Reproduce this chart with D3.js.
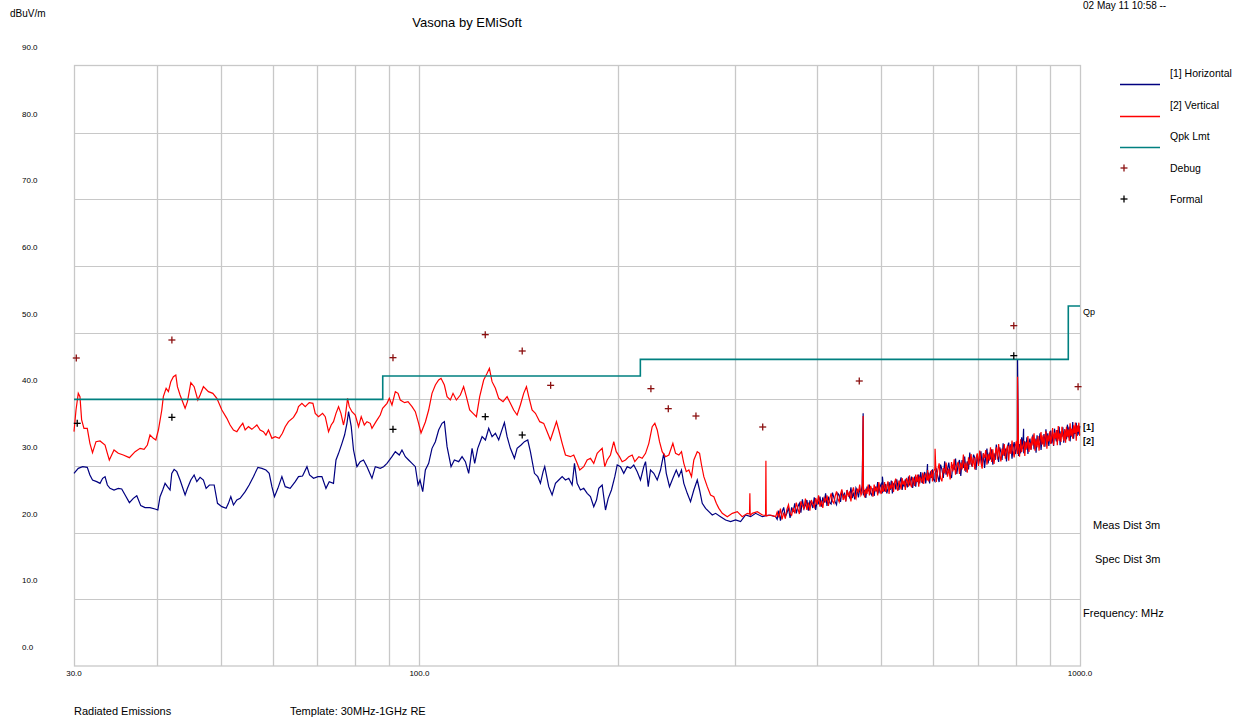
<!DOCTYPE html>
<html><head><meta charset="utf-8">
<script src="https://cdn.jsdelivr.net/npm/d3@7"></script>
<style>
body{margin:0;background:#fff}
svg{display:block}
text{font-family:"Liberation Sans",Arial,sans-serif;fill:#000}
</style></head>
<body><svg id="c" width="1246" height="721"></svg>
<script>
// ---------- DATA ----------
const yTicks = [0,10,20,30,40,50,60,70,80,90];
const xTickLabels = [30,100,1000];
const xGrid = [40,50,60,70,80,90,100,200,300,400,500,600,700,800,900];

// [2] Vertical, structured part 30-346 MHz
const vertFreq = [30.00,30.21,30.45,30.63,30.81,31.06,31.42,31.71,32.00,32.39,32.85,33.43,33.70,33.93,34.21,34.49,35.01,35.62,36.39,37.12,37.77,38.30,38.74,39.10,39.56,39.90,40.26,40.74,40.96,41.36,41.69,42.04,42.42,42.78,43.02,43.42,44.19,44.55,45.08,45.60,46.19,46.56,47.10,47.93,48.67,49.36,50.23,51.11,51.69,52.30,52.92,53.53,54.03,54.48,55.11,55.76,56.75,57.40,58.06,58.57,59.09,59.80,60.49,61.34,62.03,62.64,63.36,64.47,65.25,65.61,66.39,67.17,68.11,68.99,69.55,70.36,71.35,72.02,72.85,73.53,74.12,74.77,75.44,76.07,76.76,77.23,77.85,78.31,79.04,79.97,80.89,81.64,82.52,83.30,84.25,84.76,85.96,87.24,87.96,89.32,90.04,90.88,91.95,92.82,93.55,94.98,96.11,97.46,98.59,99.73,100.56,102.1,103.28,104.49,105.72,106.94,107.83,109.09,110.12,111.38,112.43,113.75,115.33,116.66,117.79,119.15,120.55,121.98,123.38,125.11,126.61,127.63,128.82,130.33,131.84,133.85,135.75,137.31,138.90,140.57,142.18,143.83,145.22,146.39,148.10,149.85,152.11,154.23,156.08,157.88,159.70,161.24,162.54,164.48,166.38,169.28,171.24,173.30,174.88,177.32,179.46,181.52,183.62,185.83,186.86,189.09,190.82,192.42,194.63,196.88,198.58,200.85,202.73,205.13,207.50,209.95,211.88,214.87,217.41,219.95,222.49,225.12,227.19,229.09,230.93,233.09,235.84,238.57,241.93,244.21,247.03,249.32,251.34,253.51,255.78,258.17,260.27,263.40,265.52,267.34,269.51,272.75,275.88,279.07,281.49,284.01,287.40,292.46,297.62,302.84,308.12,313.59,316.0,316.4,316.8,319.06,324.72,330.45,334.2,334.6,335.0,340.12,346.16];
const vertDb = [35.15,38.4,40.9,40.4,36.9,35.65,35.65,33.4,32.0,33.65,33.75,33.15,31.9,30.9,31.65,32.4,31.9,31.65,31.25,32.15,32.65,32.5,33.15,34.65,34.15,33.9,35.4,38.4,40.4,41.65,41.15,42.65,43.4,43.65,41.9,40.65,38.65,39.65,42.5,41.9,39.9,40.65,41.9,41.15,40.9,40.15,38.4,37.15,36.15,35.4,35.15,35.9,36.4,35.4,35.9,35.5,36.15,35.4,35.15,34.65,35.4,34.15,34.4,34.15,34.9,35.9,36.65,37.3,38.15,38.9,39.4,38.9,39.5,39.4,37.9,37.4,37.9,37.4,35.15,36.15,36.65,37.9,38.9,37.9,36.15,37.4,40.15,38.9,38.15,37.65,35.9,37.4,36.15,36.65,36.4,35.65,36.65,37.65,38.65,39.4,40.15,39.15,41.15,40.9,39.9,39.5,39.65,38.9,38.15,36.4,34.95,36.6,38.4,40.9,42.15,42.9,43.15,42.15,40.4,39.9,40.9,39.9,40.65,41.9,40.4,38.4,37.9,37.4,40.4,42.9,43.9,44.65,42.65,41.65,40.15,39.65,40.4,39.4,38.4,37.65,39.15,40.9,41.9,40.4,38.4,37.9,36.65,36.4,35.15,33.9,35.4,36.65,35.4,33.4,31.65,31.4,31.65,30.4,29.4,29.9,30.9,31.15,30.4,31.9,32.15,32.65,29.9,30.9,31.65,33.65,32.15,31.4,30.65,30.9,31.4,31.65,30.65,31.4,31.15,31.9,33.4,35.9,36.4,35.4,33.65,32.15,31.4,31.65,33.4,31.9,31.65,32.15,30.4,29.15,29.4,28.4,30.9,32.15,31.9,30.15,28.4,26.9,25.65,25.4,24.4,23.65,22.9,22.4,22.9,23.15,22.4,22.9,22.8,25.9,22.6,22.9,23.15,22.65,22.6,30.8,22.5,22.65,22.4];

// [1] Horizontal, structured part 30-346 MHz
const horizFreq = [30.00,30.45,30.92,31.42,31.71,32.00,32.47,32.85,33.15,33.43,33.70,34.01,34.49,35.01,35.43,35.85,36.39,36.89,37.34,37.86,38.43,39.10,39.80,40.18,40.49,40.87,41.21,41.55,41.93,42.18,42.53,42.93,43.42,44.19,44.55,45.08,45.60,46.03,46.56,47.10,47.55,48.10,48.90,49.47,50.23,50.98,51.39,51.82,52.30,52.92,53.53,54.48,55.24,56.07,56.95,57.75,58.57,59.24,59.80,60.34,61.06,61.92,62.64,63.73,64.87,65.61,66.54,67.57,68.19,69.14,70.21,71.19,72.20,73.03,74.12,74.77,75.44,76.34,77.04,77.68,78.12,78.85,79.48,80.44,81.36,82.30,83.30,84.76,85.75,87.24,88.25,89.32,90.88,91.95,93.23,94.10,95.21,96.31,97.46,98.59,99.53,100.21,101.16,102.1,103.28,104.49,105.72,106.94,108.2,109.09,110.12,111.66,112.96,114.67,116.03,117.38,118.74,120.15,121.25,122.54,124.42,125.87,127.32,128.82,130.33,131.84,133.06,134.49,135.75,137.31,139.26,140.57,142.53,144.21,145.88,147.24,149.33,151.06,152.47,153.90,154.78,156.96,158.82,160.68,162.54,164.48,166.38,168.30,170.29,171.69,173.30,175.30,177.32,179.46,181.52,183.62,185.39,186.86,189.09,191.30,193.11,195.30,197.6,199.26,201.55,203.87,206.33,208.70,211.11,213.66,216.11,218.61,219.95,222.03,223.78,226.37,229.09,231.73,234.40,236.43,239.13,241.93,244.82,247.03,249.32,251.34,254.37,257.29,260.27,263.40,265.52,268.02,271.16,274.29,277.54,280.79,285.69,290.75,295.82,301.07,306.32,311.76,317.19,322.83,330.45,338.15,346.16];
const horizDb = [28.9,29.65,29.9,29.8,28.65,27.9,27.65,27.4,28.15,28.4,27.15,26.65,26.4,26.65,26.55,25.65,24.5,25.15,25.55,24.05,23.75,23.75,23.55,23.4,25.4,26.4,27.4,26.9,26.4,28.9,29.5,29.15,27.9,25.65,26.65,27.9,28.65,27.65,28.3,27.9,26.65,27.15,27.15,24.4,23.9,23.65,24.4,25.4,24.15,24.9,25.15,26.15,27.15,28.4,29.8,29.65,29.4,28.9,26.9,25.4,26.65,28.4,26.9,26.65,27.65,28.4,28.5,29.9,28.65,28.15,28.4,28.4,26.65,27.65,27.4,30.9,31.9,33.4,34.65,36.4,38.15,35.9,32.4,29.9,30.65,30.9,29.9,28.15,29.9,29.65,29.9,30.4,31.4,32.15,31.65,32.4,31.4,30.9,30.4,29.9,27.15,27.9,26.15,29.4,30.4,32.65,33.65,35.4,36.4,36.65,32.9,29.9,30.9,30.65,31.4,30.65,28.9,32.65,30.4,32.65,34.4,33.9,35.65,34.4,34.9,33.9,35.15,36.5,34.4,32.65,31.15,32.65,33.15,33.65,33.9,32.15,28.9,28.4,27.4,29.15,29.9,26.9,25.65,27.4,27.9,28.4,27.9,28.15,27.15,30.4,27.4,26.4,26.65,25.9,25.4,23.9,24.9,26.65,27.15,23.4,25.15,26.4,28.4,30.15,29.9,28.9,29.9,29.65,30.15,29.15,27.9,29.9,30.65,26.9,29.4,28.9,27.9,29.4,31.9,28.9,26.9,28.15,29.4,28.4,29.4,27.4,25.9,24.65,26.4,27.9,26.4,24.4,23.65,23.15,22.65,22.9,22.4,21.9,21.65,21.9,21.65,22.65,22.4,22.9,22.4,22.65,22.4];

// Noise band 348-1000 MHz (both polarisations share the sweep points)
const bandFreq = [348,350,352,354,356,358,360,362,364,366,368,370,372,374,376,378,380,382,384,386,388,390,392,394,396,398,400,402,404,406,408,410,412,414,416,418,420,422,424,426,428,430,432,434,436,438,440,442,444,446,448,450,452,454,456,458,460,462,464,466,468,469.6,470,472,474,476,478,480,482,484,486,488,490,492,494,496,498,500,502,502.2,504,506,508,510,512,514,516,518,520,522,524,526,528,530,532,534,536,538,540,542,544,546,548,550,552,554,556,558,560,562,564,566,568,570,572,574,576,578,580,582,584,586,587.7,588,590,592,594,596,598,600,603,603.4,606,609,612,615,618,621,624,627,630,633,636,639,642,645,648,651,654,657,660,663,666,669,672,675,678,681,684,687,690,693,696,699,702,705,708,711,714,717,720,723,726,729,732,735,738,741,744,747,750,753,756,759,762,765,768,771,774,777,780,783,786,789,792,795,798,801,804,804.4,807,810,813,816,819,821.5,822,825,828,831,834,837,840,843,846,849,852,855,858,861,864,867,870,873,876,879,882,885,888,891,894,897,900,903,906,909,912,915,918,921,924,927,930,933,936,939,942,945,948,951,954,957,960,963,966,969,972,975,978,981,984,987,990,993,996,999,1000];
const bandVert = [23.1,22.3,23.6,22.0,23.0,22.1,23.5,24.2,22.9,22.6,23.7,22.9,24.5,23.6,22.8,24.7,24.1,23.6,25.1,23.4,24.5,23.3,24.9,24.3,23.8,25.2,24.2,25.6,23.9,24.8,23.7,25.2,24.7,25.6,24.0,25.1,25.9,24.7,24.4,25.5,26.2,25.1,24.6,25.8,26.5,24.9,25.7,24.7,26.4,25.4,26.2,24.7,26.1,26.8,25.5,25.1,26.6,26.1,27.2,25.6,26.0,37.5,27.0,25.3,26.6,25.8,27.2,25.6,27.0,26.5,25.4,27.2,26.2,26.9,25.6,27.6,26.4,25.8,27.2,26.3,26.2,27.6,26.1,26.9,27.7,25.8,27.2,26.6,27.7,26.1,27.5,28.1,26.7,26.3,27.8,27.4,26.5,28.2,27.2,27.8,26.4,28.2,27.8,26.9,28.6,27.2,26.8,28.3,27.9,27.0,28.7,27.6,28.7,26.9,28.4,28.0,27.5,29.0,27.3,28.5,28.9,27.9,27.9,29.4,27.7,28.6,28.2,29.4,27.7,29.1,29.6,32.6,27.6,29.3,30.4,28.2,27.7,29.7,28.9,30.5,28.4,29.6,28.0,30.6,29.2,31.0,28.7,30.1,30.6,28.8,30.5,29.5,31.7,29.3,30.5,29.0,31.3,30.2,31.8,29.9,31.3,29.5,31.1,31.9,30.0,32.3,30.5,29.6,31.9,31.2,32.4,30.2,31.8,30.8,32.8,30.6,32.5,30.3,31.8,32.8,31.0,33.3,31.6,30.7,32.6,31.6,33.3,31.1,32.5,33.1,30.8,33.1,31.8,33.8,32.3,31.3,33.0,33.7,31.8,43.4,33.0,31.4,34.0,32.1,33.0,33.4,33.8,31.5,33.6,32.6,34.5,32.1,33.5,32.4,34.4,33.1,34.9,32.3,34.0,32.8,34.5,32.3,33.9,35.1,33.2,34.6,32.9,34.3,35.2,32.6,34.6,33.7,35.2,33.3,34.4,35.7,33.1,35.0,34.1,35.4,33.1,36.0,33.8,34.9,33.6,35.9,34.6,33.8,35.5,33.5,35.9,34.4,35.5,33.8,36.4,34.5,35.6,34.1,36.1,34.9,36.5,33.8,36.1,35.1,36.5,34.6,34.6];
const bandHoriz = [22.0,23.3,21.8,23.1,23.8,22.4,22.9,23.8,22.2,23.8,23.1,24.4,22.9,23.9,24.4,23.0,25.0,23.6,24.1,24.9,23.3,24.7,24.4,23.7,25.3,23.4,24.8,24.4,25.4,23.9,25.3,24.5,25.9,24.0,25.4,24.5,24.3,26.0,25.3,24.6,24.2,25.9,25.6,24.6,26.3,25.3,26.0,24.7,26.4,25.7,25.3,26.8,25.2,26.0,25.0,26.7,26.3,25.3,26.6,25.9,27.1,37.9,25.6,26.4,25.2,26.9,26.2,27.2,25.9,25.6,26.7,25.5,26.9,26.2,27.6,25.9,26.9,27.3,25.9,28.4,26.8,26.2,27.3,25.9,26.6,27.6,26.4,27.8,25.9,27.3,27.5,26.5,28.0,26.9,26.4,27.7,28.3,26.4,27.5,26.9,28.0,27.3,26.8,28.4,27.1,27.9,28.4,26.7,27.7,28.4,26.9,28.3,27.6,28.7,27.4,29.1,27.9,27.4,28.6,29.1,27.4,28.5,30.3,27.9,29.0,27.4,29.2,28.2,29.5,28.0,27.7,28.9,29.5,28.5,27.6,30.2,29.5,28.2,30.7,28.7,29.5,30.5,28.7,28.2,30.2,29.4,31.1,28.8,30.3,30.9,28.5,30.9,29.7,31.4,29.1,30.7,29.5,32.0,30.4,29.9,31.7,31.2,29.4,31.7,30.3,31.1,32.2,30.0,31.9,29.7,31.5,32.6,30.4,32.0,31.0,32.5,30.2,31.9,30.9,33.2,31.5,30.6,32.8,32.1,30.9,33.4,31.5,32.6,30.7,33.0,33.5,31.9,33.3,31.1,32.8,33.6,31.8,32.5,34.0,46.0,31.5,33.3,31.9,34.3,32.6,35.6,31.9,33.7,32.4,34.3,31.8,33.6,34.1,32.5,33.6,34.7,32.5,34.1,32.0,34.6,33.2,33.8,34.9,32.4,34.3,33.3,34.8,32.9,35.5,33.8,34.9,33.0,34.5,35.3,33.4,34.8,33.0,35.6,34.3,33.7,35.4,34.1,35.9,33.1,35.2,34.4,35.8,33.5,35.5,35.0,34.0,36.2,34.3,35.9,33.7,35.5,34.4,36.6,34.1,35.5,34.8,36.5,34.5,36.0,34.7,35.9,36.0];

// Quasi-peak limit (FCC class B, 3 m)
const limitFreq = [30,88,88,216,216,960,960,1000];
const limitDb   = [40,40,43.5,43.5,46,46,54,54];

// Markers
const debugFreq = [30.24,42.2,91.2,125.8,143.1,158.0,224.1,238.1,262.2,330.9,463.3,793.9,993.3];
const debugDb   = [46.2,48.9,46.25,49.7,47.25,42.1,41.6,38.6,37.5,35.85,42.75,51.05,41.9];
const formalFreq = [30.34,42.2,91.2,125.8,143.1,793.9];
const formalDb   = [36.4,37.3,35.5,37.4,34.65,46.55];

const legendItems = ["[1] Horizontal","[2] Vertical","Qpk Lmt","Debug","Formal"];

// ---------- DRAW ----------
const svg = d3.select("#c");
const x = d3.scaleLog().domain([30,1000]).range([74,1080]);
const y = d3.scaleLinear().domain([0,90]).range([666,66]);
const navy = "#000080", red = "#ff0000", teal = "#008080", dred = "#8b1010";
const gridC = "#c8c8c8";
const px = v => Math.round(v) + 0.5;

// grid
const g = svg.append("g");
g.selectAll("line.h").data(yTicks.slice(1,-1)).enter().append("line")
  .attr("x1",74).attr("x2",1080).attr("y1",d=>px(y(d))).attr("y2",d=>px(y(d)))
  .attr("stroke",gridC).attr("stroke-width",1);
g.selectAll("line.v").data(xGrid).enter().append("line")
  .attr("y1",66).attr("y2",666).attr("x1",d=>px(x(d))).attr("x2",d=>px(x(d)))
  .attr("stroke",gridC).attr("stroke-width",1.3);
g.append("rect").attr("x",74.5).attr("y",65.5).attr("width",1006).attr("height",600.5)
  .attr("fill","none").attr("stroke",gridC).attr("stroke-width",1.3);

// y tick labels (sitting above their gridlines, as in the original)
svg.append("g").selectAll("text").data(yTicks).enter().append("text")
  .attr("x",22).attr("y",d=>y(d)-16).attr("font-size",8)
  .text(d=>d3.format(".1f")(d));
svg.append("text").attr("x",10).attr("y",17).attr("font-size",10).text("dBuV/m");

// x tick labels
svg.append("g").selectAll("text").data(xTickLabels).enter().append("text")
  .attr("x",d=>x(d)).attr("y",676).attr("font-size",8).attr("text-anchor","middle")
  .text(d=>d3.format(".1f")(d));

// traces
const line = d3.line().x(d=>x(d[0])).y(d=>y(d[1]));
const hData = horizFreq.map((f,i)=>[f,horizDb[i]]).concat(bandFreq.map((f,i)=>[f,bandHoriz[i]]));
const vData = vertFreq.map((f,i)=>[f,vertDb[i]]).concat(bandFreq.map((f,i)=>[f,bandVert[i]]));
svg.append("path").datum(hData).attr("d",line).attr("fill","none")
  .attr("stroke",navy).attr("stroke-width",1.2).attr("stroke-linejoin","miter");
svg.append("path").datum(vData).attr("d",line).attr("fill","none")
  .attr("stroke",red).attr("stroke-width",1.2).attr("stroke-linejoin","miter");

// limit
const lim = limitFreq.map((f,i)=>[f,limitDb[i]]);
svg.append("path").datum(lim).attr("d",line).attr("fill","none")
  .attr("stroke",teal).attr("stroke-width",1.6);

// markers
function plus(gsel, cx, cy, col){
  gsel.append("line").attr("x1",cx-3.5).attr("x2",cx+3.5).attr("y1",cy).attr("y2",cy).attr("stroke",col).attr("stroke-width",1.3);
  gsel.append("line").attr("x1",cx).attr("x2",cx).attr("y1",cy-3.5).attr("y2",cy+3.5).attr("stroke",col).attr("stroke-width",1.3);
}
const mg = svg.append("g");
debugFreq.forEach((f,i)=>plus(mg, x(f), y(debugDb[i]), dred));
formalFreq.forEach((f,i)=>plus(mg, x(f), y(formalDb[i]), "#000"));

// title & header
svg.append("text").attr("x",467).attr("y",27).attr("font-size",13).attr("text-anchor","middle").text("Vasona by EMiSoft");
svg.append("text").attr("x",1083).attr("y",9).attr("font-size",10).text("02 May 11 10:58 --");

// legend
const lg = svg.append("g");
const legY = [73,105,136,168,199];
const legCol = [navy, red, teal];
legendItems.forEach((t,i)=>{
  lg.append("text").attr("x",1170).attr("y",legY[i]+4).attr("font-size",10.5).text(t);
  if(i<3){
    lg.append("line").attr("x1",1120).attr("x2",1160).attr("y1",legY[i]+11.5).attr("y2",legY[i]+11.5)
      .attr("stroke",legCol[i]).attr("stroke-width",1.5);
  } else {
    plus(lg, 1124, legY[i], i===3 ? dred : "#000");
  }
});

// right-side annotations
svg.append("text").attr("x",1083).attr("y",315).attr("font-size",9).text("Qp");
svg.append("text").attr("x",1083).attr("y",430).attr("font-size",9).attr("font-weight","bold").text("[1]");
svg.append("text").attr("x",1083).attr("y",444).attr("font-size",9).attr("font-weight","bold").text("[2]");
svg.append("text").attr("x",1093).attr("y",529).attr("font-size",11).text("Meas Dist 3m");
svg.append("text").attr("x",1095).attr("y",563).attr("font-size",11).text("Spec Dist 3m");
svg.append("text").attr("x",1083).attr("y",617).attr("font-size",11).text("Frequency: MHz");

// footer
svg.append("text").attr("x",74).attr("y",715).attr("font-size",11).text("Radiated Emissions");
svg.append("text").attr("x",290).attr("y",715).attr("font-size",11).text("Template: 30MHz-1GHz RE");
</script></body></html>
